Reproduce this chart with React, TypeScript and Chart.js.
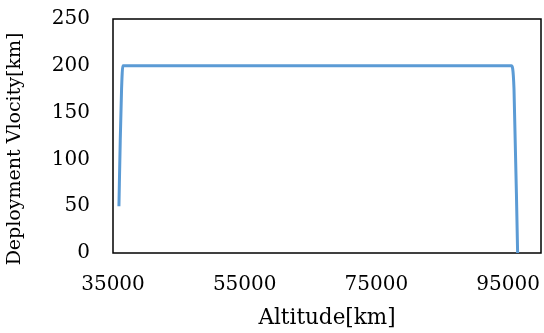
import React, { useEffect, useRef } from "react";
import { Chart, registerables } from "chart.js";

Chart.register(...registerables);

const altitudes = [35900, 36100, 36300, 36500, 95500, 95900, 96450];
const velocities = [50, 120, 175, 200, 200, 175, 0];
const xTickValues = [35000, 55000, 75000, 95000];
const yTickValues = [0, 50, 100, 150, 200, 250];
const xTitle = "Altitude[km]";
const yTitle = "Deployment Vlocity[km]";

const FONT = "'DejaVu Serif', serif";

const boxPlugin = {
  id: "box",
  beforeDatasetsDraw(chart: any) {
    const { ctx, chartArea } = chart;
    ctx.save();
    ctx.strokeStyle = "#000";
    ctx.lineWidth = 1.5;
    ctx.strokeRect(chartArea.left, chartArea.top, chartArea.right - chartArea.left, chartArea.bottom - chartArea.top);
    ctx.restore();
  },
  afterDraw(chart: any) {
    const { ctx } = chart;
    ctx.save();
    ctx.translate(15, 149);
    ctx.rotate(-Math.PI / 2);
    ctx.fillStyle = "#000";
    ctx.font = `19px ${FONT}`;
    ctx.textAlign = "center";
    ctx.textBaseline = "middle";
    ctx.fillText(yTitle, 0, 0);
    ctx.restore();
  },
};

const zeroPad = (s: any) => {
  s.paddingTop = 0;
  s.paddingBottom = 0;
  s.paddingLeft = 0;
  s.paddingRight = 0;
};

export default function App() {
  const ref = useRef<HTMLCanvasElement>(null);
  useEffect(() => {
    document.body.style.margin = "0";
    const chart = new Chart(ref.current!, {
      type: "line",
      data: {
        datasets: [
          {
            data: altitudes.map((a, i) => ({ x: a, y: velocities[i] })),
            borderColor: "#5B9BD5",
            borderWidth: 3,
            pointRadius: 0,
            cubicInterpolationMode: "monotone",
            fill: false,
          },
        ],
      },
      options: {
        animation: false,
        responsive: false,
        maintainAspectRatio: false,
        layout: { padding: { top: 19, right: 3, left: 0, bottom: 0 } },
        plugins: { legend: { display: false }, tooltip: { enabled: false } },
        scales: {
          x: {
            type: "linear",
            min: 35000,
            max: 100000,
            afterBuildTicks: (s: any) => {
              s.ticks = xTickValues.map((v) => ({ value: v }));
            },
            afterFit: (s: any) => {
              s.height = 80;
              zeroPad(s);
            },
            grid: { display: false, drawTicks: false },
            border: { display: false },
            ticks: {
              padding: 20,
              color: "#000",
              font: { family: FONT, size: 20 },
              maxRotation: 0,
              callback: (v: any) => String(v),
            },
            title: {
              display: true,
              text: xTitle,
              color: "#000",
              font: { family: FONT, size: 21.5 },
              padding: { top: 0, bottom: 2 },
            },
          },
          y: {
            min: 0,
            max: 250,
            afterBuildTicks: (s: any) => {
              s.ticks = yTickValues.map((v) => ({ value: v }));
            },
            afterFit: (s: any) => {
              s.width = 113;
              zeroPad(s);
            },
            grid: { display: false, drawTicks: false },
            border: { display: false },
            ticks: {
              padding: 23,
              color: "#000",
              font: { family: FONT, size: 20 },
            },
          },
        },
      },
      plugins: [boxPlugin],
    } as any);
    return () => chart.destroy();
  }, []);
  return <canvas ref={ref} width={544} height={333} style={{ display: "block" }} />;
}
